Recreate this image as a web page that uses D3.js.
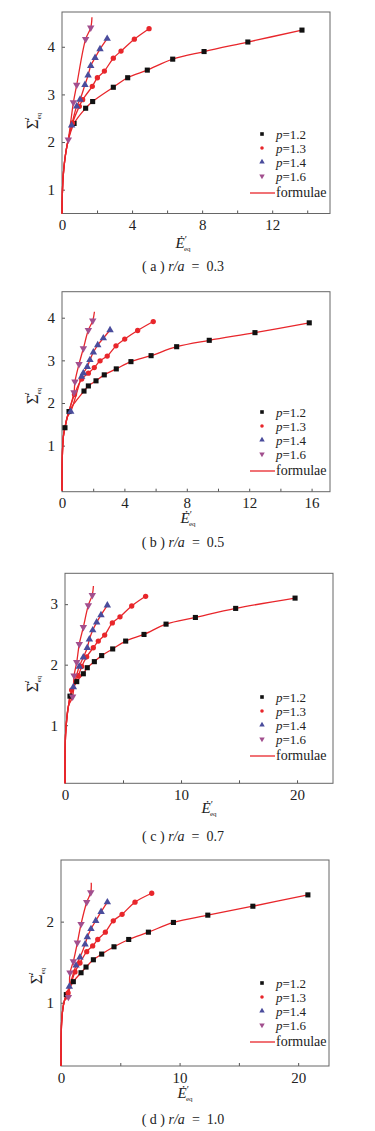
<!DOCTYPE html>
<html>
<head>
<meta charset="utf-8">
<script src="https://cdn.jsdelivr.net/npm/d3@7"></script>
<style>
body{margin:0;background:#fff;}
text{font-family:"Liberation Serif","Times New Roman",serif;fill:#222;white-space:pre;}
</style>
</head>
<body>
<svg id="fig" width="375" height="1131"></svg>
<script>
(function(){

	// legend / series
	var pValues = ["1.2", "1.3", "1.4", "1.6"];
	var colors = ["#111111", "#e8262b", "#4a4c9c", "#a24f8e"];
	var formulaLabel = "formulae";

	// (a) r/a = 0.3
	var aP12 = [[0.69,2.39],[1.35,2.71],[1.75,2.85],[2.93,3.15],[3.75,3.35],[4.87,3.51],[6.32,3.74],[8.11,3.90],[10.61,4.10],[13.70,4.35]];
	var aP13 = [[0.60,2.40],[0.99,2.75],[1.18,2.89],[1.73,3.17],[2.02,3.35],[2.42,3.49],[2.93,3.76],[3.37,3.91],[4.13,4.16],[4.97,4.38]];
	var aP14 = [[0.55,2.35],[0.84,2.75],[1.03,2.89],[1.31,3.20],[1.49,3.40],[1.64,3.60],[1.89,3.77],[2.17,3.95],[2.58,4.17]];
	var aP16 = [[0.36,2.05],[0.65,2.83],[0.84,3.20],[1.35,4.16],[1.64,4.40]];
	var aHead = [[0,0.5],[0.02,0.9],[0.06,1.25],[0.15,1.6],[0.3,1.95]];
	var aTail = [[1.71,4.62]];
	var aXTicks = [0, 4, 8, 12];
	var aYTicks = [1, 2, 3, 4];

	// (b) r/a = 0.5
	var bP12 = [[0.19,1.42],[0.45,1.80],[1.41,2.28],[1.69,2.40],[2.18,2.52],[2.71,2.66],[3.48,2.80],[4.42,2.97],[5.71,3.11],[7.35,3.32],[9.44,3.47],[12.37,3.65],[15.85,3.88]];
	var bP13 = [[0.80,2.20],[1.26,2.56],[1.69,2.70],[2.07,2.83],[2.44,2.99],[2.90,3.10],[3.46,3.34],[4.02,3.50],[4.85,3.70],[5.85,3.91]];
	var bP14 = [[0.56,1.80],[1.26,2.62],[1.37,2.70],[1.62,2.85],[1.79,3.01],[2.01,3.19],[2.29,3.36],[2.65,3.52],[3.08,3.71]];
	var bP16 = [[0.77,2.25],[0.83,2.50],[1.09,2.91],[1.37,3.28],[1.69,3.71],[1.97,3.93]];
	var bHead = [[0,-0.05],[0.01,0.5],[0.04,0.95],[0.1,1.25],[0.19,1.42],[0.35,1.68]];
	var bTail = [[2.08,4.14]];
	var bXTicks = [0, 4, 8, 12, 16];
	var bYTicks = [1, 2, 3, 4];

	// (c) r/a = 0.7
	var cP12 = [[0.43,1.48],[1.01,1.72],[1.58,1.85],[1.92,1.95],[2.53,2.05],[3.16,2.15],[4.11,2.26],[5.23,2.39],[6.81,2.50],[8.71,2.67],[11.24,2.78],[14.71,2.93],[19.83,3.10]];
	var cP13 = [[0.57,1.58],[1.15,1.82],[1.44,1.97],[1.87,2.13],[2.44,2.28],[2.87,2.39],[3.42,2.49],[4.08,2.69],[4.74,2.79],[5.75,2.97],[6.95,3.13]];
	var cP14 = [[0.72,1.63],[1.23,1.97],[1.58,2.12],[1.92,2.28],[2.10,2.42],[2.39,2.57],[2.73,2.70],[3.10,2.82],[3.65,2.98]];
	var cP16 = [[0.66,1.47],[0.78,1.82],[1.01,2.04],[1.23,2.34],[1.58,2.62],[2.01,2.98],[2.35,3.15]];
	var cHead = [[0,0.04],[0.01,0.5],[0.05,0.85],[0.15,1.1],[0.3,1.32]];
	var cTail = [[2.45,3.30]];
	var cXTicks = [0, 10, 20];
	var cYTicks = [1, 2, 3];

	// (d) r/a = 1.0
	var dP12 = [[0.45,1.10],[1.04,1.26],[1.69,1.37],[2.11,1.44],[2.73,1.53],[3.43,1.60],[4.47,1.69],[5.71,1.78],[7.37,1.87],[9.48,1.99],[12.38,2.08],[16.18,2.19],[20.82,2.33]];
	var dP13 = [[0.60,1.12],[1.18,1.38],[1.60,1.49],[2.17,1.63],[2.67,1.70],[3.10,1.78],[3.74,1.87],[4.41,2.01],[5.15,2.09],[6.24,2.24],[7.65,2.35]];
	var dP14 = [[0.70,1.20],[1.27,1.46],[1.60,1.56],[2.03,1.72],[2.22,1.81],[2.53,1.91],[2.93,2.01],[3.38,2.12],[3.91,2.24]];
	var dP16 = [[0.62,1.07],[0.76,1.37],[1.04,1.51],[1.38,1.74],[1.69,1.97],[2.17,2.24],[2.51,2.36]];
	var dHead = [[0,0.22],[0.01,0.5],[0.05,0.75],[0.15,0.92],[0.3,1.03]];
	var dTail = [[2.55,2.48]];
	var dXTicks = [0, 10, 20];
	var dYTicks = [1, 2];

	var panels = [
		{tag:"a", ratio:"0.3", pts:[aP12,aP13,aP14,aP16], head:aHead, tail:aTail, xTicks:aXTicks, xStep:2, yTicks:aYTicks,
			box:{l:62, r:330, t:12, b:213.5}, xDom:[0,15.3], yDom:[0.5,4.73],
			legY:193, xt:[183,248], yt:[38,121], cap:[183,271]},
		{tag:"b", ratio:"0.5", pts:[bP12,bP13,bP14,bP16], head:bHead, tail:bTail, xTicks:bXTicks, xStep:2, yTicks:bYTicks,
			box:{l:62, r:330, t:291.7, b:491.7}, xDom:[0,17.18], yDom:[-0.08,4.61],
			legY:471, xt:[188,523], yt:[38,396], cap:[183,547]},
		{tag:"c", ratio:"0.7", pts:[cP12,cP13,cP14,cP16], head:cHead, tail:cTail, xTicks:cXTicks, xStep:5, yTicks:cYTicks,
			box:{l:65, r:333, t:573.3, b:783.3}, xDom:[0,23.1], yDom:[0.04,3.51],
			legY:756, xt:[209,813], yt:[38,684], cap:[183,841]},
		{tag:"d", ratio:"1.0", pts:[dP12,dP13,dP14,dP16], head:dHead, tail:dTail, xTicks:dXTicks, xStep:5, yTicks:dYTicks,
			box:{l:61, r:329, t:860, b:1066}, xDom:[0,22.6], yDom:[0.22,2.76],
			legY:1042, xt:[185,1098], yt:[42,976], cap:[183,1124]}
	];

	var svg = d3.select("#fig");
	var markSym = [d3.symbolSquare, d3.symbolCircle, d3.symbolTriangle, d3.symbolTriangle];
	var markSize = [26, 22, 24, 24];
	var legSize = [13, 10, 13, 13];
	var rowGap = 14;

	panels.forEach(drawPanel);

	function drawPanel(p){
		var g = svg.append("g");
		var x = d3.scaleLinear().domain(p.xDom).range([p.box.l, p.box.r]);
		var y = d3.scaleLinear().domain(p.yDom).range([p.box.b, p.box.t]);

		// minor + major ticks on x, pointing inward
		var allX = d3.range(0, p.xDom[1], p.xStep);
		g.append("g")
			.attr("transform", "translate(0," + p.box.b + ")")
			.call(d3.axisTop(x).tickValues(allX).tickSize(3).tickFormat(""))
			.call(function(s){ s.select(".domain").remove(); s.selectAll("line").attr("stroke", "#555"); });
		g.append("g")
			.attr("transform", "translate(0," + p.box.b + ")")
			.call(d3.axisBottom(x).tickValues(p.xTicks).tickSize(0).tickPadding(6).tickFormat(d3.format("d")))
			.call(function(s){
				s.select(".domain").remove();
				s.selectAll("text").attr("font-size", 15).attr("fill", "#222")
					.attr("font-family", "Liberation Serif, serif");
			});

		g.append("g")
			.attr("transform", "translate(" + p.box.l + ",0)")
			.call(d3.axisRight(y).tickValues(p.yTicks).tickSize(3).tickFormat(""))
			.call(function(s){ s.select(".domain").remove(); s.selectAll("line").attr("stroke", "#555"); });
		g.append("g")
			.attr("transform", "translate(" + p.box.l + ",0)")
			.call(d3.axisLeft(y).tickValues(p.yTicks).tickSize(0).tickPadding(7).tickFormat(d3.format("d")))
			.call(function(s){
				s.select(".domain").remove();
				s.selectAll("text").attr("font-size", 15).attr("fill", "#222")
					.attr("font-family", "Liberation Serif, serif");
			});

		// frame
		g.append("rect")
			.attr("x", p.box.l).attr("y", p.box.t)
			.attr("width", p.box.r - p.box.l).attr("height", p.box.b - p.box.t)
			.attr("fill", "none").attr("stroke", "#666").attr("stroke-width", 1);

		var line = d3.line()
			.x(function(d){ return x(d[0]); })
			.y(function(d){ return y(d[1]); })
			.curve(d3.curveCatmullRom.alpha(0.5));

		var plot = g.append("g");
		p.pts.forEach(function(pts, i){
			var first = pts[0][0];
			var lp = p.head.filter(function(d){ return d[0] < first; }).concat(pts);
			if(i === 3) lp = lp.concat(p.tail);
			plot.append("path")
				.attr("d", line(lp))
				.attr("fill", "none")
				.attr("stroke", "#e8262b")
				.attr("stroke-width", 1.3);
		});
		p.pts.forEach(function(pts, i){
			plot.selectAll(null)
				.data(pts)
				.enter().append("path")
					.attr("d", d3.symbol().type(markSym[i]).size(markSize[i]))
					.attr("transform", function(d){
						return "translate(" + x(d[0]) + "," + y(d[1]) + ")" + (i === 3 ? " rotate(180)" : "");
					})
					.attr("fill", colors[i]);
		});

		// legend
		var leg = g.append("g");
		pValues.forEach(function(v, i){
			var ry = p.legY - 4 * rowGap - 3 + i * rowGap;
			leg.append("path")
				.attr("d", d3.symbol().type(markSym[i]).size(legSize[i]))
				.attr("transform", "translate(262," + ry + ")" + (i === 3 ? " rotate(180)" : ""))
				.attr("fill", colors[i]);
			leg.append("text").attr("x", 276).attr("y", ry + 4.5).attr("font-size", 13)
				.html("<tspan font-style='italic'>p</tspan>=" + v);
		});
		leg.append("line")
			.attr("x1", 250).attr("x2", 275)
			.attr("y1", p.legY).attr("y2", p.legY)
			.attr("stroke", "#e8262b").attr("stroke-width", 1.3);
		leg.append("text").attr("x", 276).attr("y", p.legY + 4).attr("font-size", 14).text(formulaLabel);

		// axis titles
		var xt = g.append("text").attr("x", p.xt[0]).attr("y", p.xt[1]).attr("text-anchor", "middle");
		xt.append("tspan").attr("font-size", 15).attr("font-style", "italic").text("\u0116");
		xt.append("tspan").attr("font-size", 10).attr("dy", -5).text("\u2032");
		xt.append("tspan").attr("font-size", 7).attr("dx", -3).attr("dy", 8).text("eq");

		var yt = g.append("text")
			.attr("transform", "translate(" + p.yt[0] + "," + p.yt[1] + ") rotate(-90)")
			.attr("text-anchor", "middle");
		yt.append("tspan").attr("font-size", 17).text("\u03A3\u0307");
		yt.append("tspan").attr("font-size", 10).attr("dy", -6).text("\u2032");
		yt.append("tspan").attr("font-size", 7).attr("dx", -2).attr("dy", 9).text("eq");

		// caption
		var cap = g.append("text").attr("x", p.cap[0]).attr("y", p.cap[1])
			.attr("text-anchor", "middle").attr("font-size", 14);
		cap.append("tspan").text("( " + p.tag + " ) ");
		cap.append("tspan").attr("font-style", "italic").text("r/a");
		cap.append("tspan").text("  =  " + p.ratio);
	}

})();
</script>
</body>
</html>
